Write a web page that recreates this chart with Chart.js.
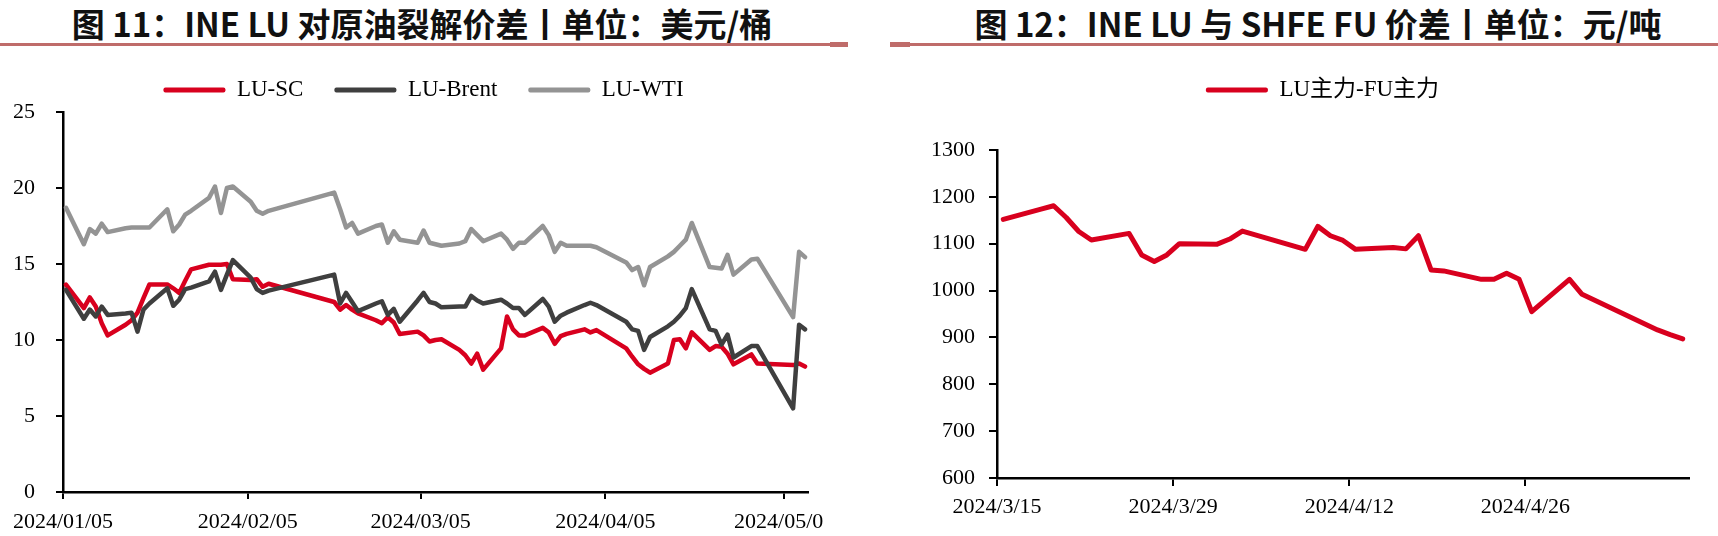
<!DOCTYPE html>
<html lang="zh-CN">
<head>
<meta charset="UTF-8">
<title>INE LU 价差</title>
<script src="https://cdn.jsdelivr.net/npm/chart.js@4.4.1/dist/chart.umd.min.js"></script>
<style>
  html, body { margin: 0; padding: 0; background: #fff; }
  body { width: 1718px; height: 536px; position: relative; overflow: hidden; }
  .title {
    position: absolute; top: 3px; transform: translateX(-50%);
    font-family: 'Noto Sans CJK SC', sans-serif; font-weight: 700;
    font-size: 33px; line-height: 40px; color: #111; white-space: nowrap;
  }
  .rule { position: absolute; top: 43px; height: 3px; background: #BF6C6A; }
  .rule-cap { position: absolute; top: 42px; height: 5px; background: #BF6C6A; }
  .box { position: absolute; top: 44px; height: 492px; }
</style>
</head>
<body>
  <div class="title" style="left:422px">图 11：INE LU 对原油裂解价差丨单位：美元/桶</div>
  <div class="rule" style="left:0; width:848px"></div>
  <div class="rule-cap" style="left:830px; width:18px"></div>

  <div class="title" style="left:1318px">图 12：INE LU 与 SHFE FU 价差丨单位：元/吨</div>
  <div class="rule" style="left:890px; width:828px"></div>
  <div class="rule-cap" style="left:890px; width:20px"></div>

  <div class="box" style="left:0; width:823px"><canvas id="crackChart"></canvas></div>
  <div class="box" style="left:860px; width:858px"><canvas id="spreadChart"></canvas></div>

<script>
// 图11 数据（美元/桶）
const crackDates = [
  '2024-01-05', '2024-01-08', '2024-01-09', '2024-01-10', '2024-01-11', '2024-01-12',
  '2024-01-15', '2024-01-16', '2024-01-17', '2024-01-18', '2024-01-19',
  '2024-01-22', '2024-01-23', '2024-01-24', '2024-01-25', '2024-01-26',
  '2024-01-29', '2024-01-30', '2024-01-31', '2024-02-01', '2024-02-02',
  '2024-02-05', '2024-02-06', '2024-02-07', '2024-02-08',
  '2024-02-19', '2024-02-20', '2024-02-21', '2024-02-22', '2024-02-23',
  '2024-02-26', '2024-02-27', '2024-02-28', '2024-02-29', '2024-03-01',
  '2024-03-04', '2024-03-05', '2024-03-06', '2024-03-07', '2024-03-08',
  '2024-03-11', '2024-03-12', '2024-03-13', '2024-03-14', '2024-03-15',
  '2024-03-18', '2024-03-19', '2024-03-20', '2024-03-21', '2024-03-22',
  '2024-03-25', '2024-03-26', '2024-03-27', '2024-03-28', '2024-03-29',
  '2024-04-01', '2024-04-02', '2024-04-03',
  '2024-04-08', '2024-04-09', '2024-04-10', '2024-04-11', '2024-04-12',
  '2024-04-15', '2024-04-16', '2024-04-17', '2024-04-18', '2024-04-19',
  '2024-04-22', '2024-04-23', '2024-04-24', '2024-04-25', '2024-04-26',
  '2024-04-29', '2024-04-30',
  '2024-05-06', '2024-05-07', '2024-05-08'
];
const luScValues = [
  13.65, 12.1, 12.8, 12.2, 11.1, 10.3,
  11.0, 11.3, 11.8, 12.75, 13.65,
  13.65, 13.4, 13.1, 13.9, 14.65,
  14.95, 14.95, 14.95, 15.0, 14.0,
  13.95, 14.0, 13.5, 13.7,
  12.5, 12.0, 12.3, 12.0, 11.75,
  11.3, 11.1, 11.5, 11.15, 10.4,
  10.55, 10.3, 9.9, 10.0, 10.05,
  9.35, 9.0, 8.45, 9.1, 8.05,
  9.45, 11.55, 10.7, 10.3, 10.3,
  10.8, 10.5, 9.75, 10.25, 10.4,
  10.7, 10.5, 10.65,
  9.45, 8.9, 8.4, 8.1, 7.85,
  8.45, 10.0, 10.05, 9.45, 10.5,
  9.35, 9.6, 9.55, 9.1, 8.4,
  9.05, 8.45,
  8.35, 8.45, 8.25
];
const luBrentValues = [
  13.3, 11.4, 12.0, 11.55, 12.2, 11.65,
  11.75, 11.8, 10.55, 12.0, 12.4,
  13.4, 12.25, 12.65, 13.35, 13.45,
  13.85, 14.5, 13.3, 14.3, 15.25,
  14.1, 13.35, 13.1, 13.25,
  14.3, 12.4, 13.1, 12.5, 11.9,
  12.4, 12.55, 11.65, 12.05, 11.2,
  12.6, 13.1, 12.5, 12.4, 12.15,
  12.2, 12.2, 12.9, 12.6, 12.4,
  12.65, 12.4, 12.1, 12.1, 11.65,
  12.7, 12.2, 11.2, 11.6, 11.8,
  12.3, 12.45, 12.3,
  11.2, 10.7, 10.6, 9.35, 10.2,
  10.9, 11.2, 11.6, 12.1, 13.35,
  10.7, 10.6, 9.7, 10.35, 8.85,
  9.6, 9.6,
  5.5, 11.0, 10.7
];
const luWtiValues = [
  18.7, 16.3, 17.3, 17.0, 17.65, 17.1,
  17.35, 17.4, 17.4, 17.4, 17.4,
  18.6, 17.15, 17.6, 18.25, 18.5,
  19.35, 20.1, 18.35, 20.0, 20.1,
  19.1, 18.5, 18.3, 18.5,
  19.7, 18.6, 17.4, 17.7, 17.0,
  17.5, 17.6, 16.4, 17.15, 16.6,
  16.4, 17.2, 16.4, 16.3, 16.2,
  16.35, 16.5, 17.3, 16.9, 16.5,
  17.0, 16.6, 16.0, 16.4, 16.4,
  17.5, 16.9, 15.8, 16.4, 16.2,
  16.2, 16.2, 16.1,
  15.1, 14.6, 14.8, 13.6, 14.8,
  15.5, 15.8, 16.2, 16.6, 17.7,
  14.8, 14.75, 14.7, 15.6, 14.3,
  15.3, 15.35,
  11.5, 15.8, 15.45
];
const crackAxisStart = '2024-01-05';
const crackAxisEnd = '2024-05-09';
const crackTickDates = ['2024-01-05', '2024-02-05', '2024-03-05', '2024-04-05', '2024-05-05'];
const crackTickLabels = ['2024/01/05', '2024/02/05', '2024/03/05', '2024/04/05', '2024/05/05'];

// 图12 数据（元/吨）
const spreadDates = [
  '2024-03-15', '2024-03-18', '2024-03-19', '2024-03-20', '2024-03-21', '2024-03-22',
  '2024-03-25', '2024-03-26', '2024-03-27', '2024-03-28', '2024-03-29',
  '2024-04-01', '2024-04-02', '2024-04-03',
  '2024-04-08', '2024-04-09', '2024-04-10', '2024-04-11', '2024-04-12',
  '2024-04-15', '2024-04-16', '2024-04-17', '2024-04-18', '2024-04-19',
  '2024-04-22', '2024-04-23', '2024-04-24', '2024-04-25', '2024-04-26',
  '2024-04-29', '2024-04-30',
  '2024-05-06', '2024-05-07', '2024-05-08'
];
const luFuValues = [
  1152, 1174, 1181, 1156, 1126, 1108,
  1122, 1076, 1062, 1076, 1100,
  1099, 1110, 1127,
  1088, 1137, 1117, 1107, 1088,
  1092, 1089, 1117, 1044, 1042,
  1024, 1024, 1037, 1024, 955,
  1024, 992,
  916, 906, 897
];
const spreadAxisStart = '2024-03-15';
const spreadAxisEnd = '2024-05-09';
const spreadTickDates = ['2024-03-15', '2024-03-29', '2024-04-12', '2024-04-26'];
const spreadTickLabels = ['2024/3/15', '2024/3/29', '2024/4/12', '2024/4/26'];

const RED = '#D8001E';
const DARK = '#3F3F3F';
const GREY = '#949494';
const SERIF = "'Liberation Serif', 'Times New Roman', serif";
const LEGEND_FONT = "'Liberation Serif', 'Noto Sans CJK SC', serif";

const DAY = 86400000;
function dayIndex(date, start) {
  return (Date.parse(date) - Date.parse(start)) / DAY;
}

// Excel风格日期轴：每个交易日的点落在当日区间中间
function toPoints(dates, values, start) {
  return dates.map((d, i) => ({ x: dayIndex(d, start) + 0.5, y: values[i] }));
}

// 固定图例高度并平移图例，使绘图区和图例位置与原图一致
const legendPlacement = {
  id: 'legendPlacement',
  beforeUpdate(chart, args, opts) {
    const legend = chart.legend;
    if (!legend || legend._fixed) return;
    const fit = legend.fit;
    legend.fit = function () {
      fit.call(this);
      this.height = opts.height;
    };
    legend._fixed = true;
  },
  afterLayout(chart, args, opts) {
    const legend = chart.legend;
    if (!legend) return;
    legend.left += opts.shiftX;
    legend.right += opts.shiftX;
    legend.top += opts.shiftY;
    legend.bottom += opts.shiftY;
  }
};

function lineDataset(label, data, color, width, order) {
  return {
    label,
    data,
    borderColor: color,
    backgroundColor: color,
    borderWidth: width,
    pointRadius: 0,
    pointHoverRadius: 0,
    tension: 0,
    borderJoinStyle: 'round',
    borderCapStyle: 'round',
    order
  };
}

function axisStyle(tickLength) {
  return {
    grid: { drawOnChartArea: false, drawTicks: true, tickLength, color: '#000', lineWidth: 2 },
    border: { display: true, color: '#000', width: 2.5 }
  };
}

function buildOptions(cfg) {
  return {
    responsive: true,
    maintainAspectRatio: false,
    animation: false,
    layout: { padding: cfg.padding },
    plugins: {
      legendPlacement: { height: cfg.legendHeight, shiftX: cfg.legendShift, shiftY: 3.5 },
      tooltip: { enabled: false },
      legend: {
        position: 'top',
        align: 'center',
        labels: {
          boxWidth: 62,
          boxHeight: 5,
          padding: 31,
          color: '#000',
          font: { family: LEGEND_FONT, size: 23 },
          generateLabels: (chart) =>
            Chart.defaults.plugins.legend.labels.generateLabels(chart)
              .map(item => ({ ...item, lineWidth: 0, borderRadius: 2 })),
          sort: (a, b) => a.datasetIndex - b.datasetIndex
        }
      }
    },
    scales: {
      x: {
        type: 'linear',
        min: 0,
        max: cfg.xMax,
        ...axisStyle(cfg.xTickLength),
        afterBuildTicks: (scale) => {
          scale.ticks = cfg.tickValues.map(v => ({ value: v }));
        },
        afterFit: (scale) => {
          scale.height = cfg.xHeight;
          scale.paddingLeft = 0;
          scale.paddingRight = 0;
        },
        ticks: {
          autoSkip: false,
          maxRotation: 0,
          minRotation: 0,
          padding: cfg.xPad,
          color: '#000',
          font: { family: SERIF, size: 22 },
          callback: (value, index) => cfg.tickLabels[index]
        }
      },
      y: {
        min: cfg.yMin,
        max: cfg.yMax,
        ...axisStyle(cfg.yTickLength),
        afterFit: (scale) => { scale.width = cfg.yWidth; },
        ticks: {
          stepSize: cfg.yStep,
          padding: cfg.yPad,
          color: '#000',
          font: { family: SERIF, size: 22 },
          callback: (value) => String(value)
        }
      }
    }
  };
}

new Chart(document.getElementById('crackChart'), {
  type: 'line',
  data: {
    datasets: [
      lineDataset('LU-SC', toPoints(crackDates, luScValues, crackAxisStart), RED, 4.5, 3),
      lineDataset('LU-Brent', toPoints(crackDates, luBrentValues, crackAxisStart), DARK, 4.5, 2),
      lineDataset('LU-WTI', toPoints(crackDates, luWtiValues, crackAxisStart), GREY, 4.5, 1)
    ]
  },
  options: buildOptions({
    padding: { left: 0, right: 15, top: 0, bottom: 0 },
    legendHeight: 68,
    legendShift: 19.5,
    xMax: dayIndex(crackAxisEnd, crackAxisStart),
    tickValues: crackTickDates.map(d => dayIndex(d, crackAxisStart)),
    tickLabels: crackTickLabels,
    xHeight: 44, xTickLength: 7, xPad: 10,
    yMin: 0, yMax: 25, yStep: 5,
    yWidth: 63, yTickLength: 7, yPad: 21
  }),
  plugins: [legendPlacement]
});

new Chart(document.getElementById('spreadChart'), {
  type: 'line',
  data: {
    datasets: [
      lineDataset('LU主力-FU主力', toPoints(spreadDates, luFuValues, spreadAxisStart), RED, 5, 1)
    ]
  },
  options: buildOptions({
    padding: { left: 0, right: 29, top: 0, bottom: 0 },
    legendHeight: 106,
    legendShift: 48,
    xMax: dayIndex(spreadAxisEnd, spreadAxisStart),
    tickValues: spreadTickDates.map(d => dayIndex(d, spreadAxisStart)),
    tickLabels: spreadTickLabels,
    xHeight: 58, xTickLength: 8, xPad: 8,
    yMin: 600, yMax: 1300, yStep: 100,
    yWidth: 137, yTickLength: 8, yPad: 14
  }),
  plugins: [legendPlacement]
});
</script>
</body>
</html>
